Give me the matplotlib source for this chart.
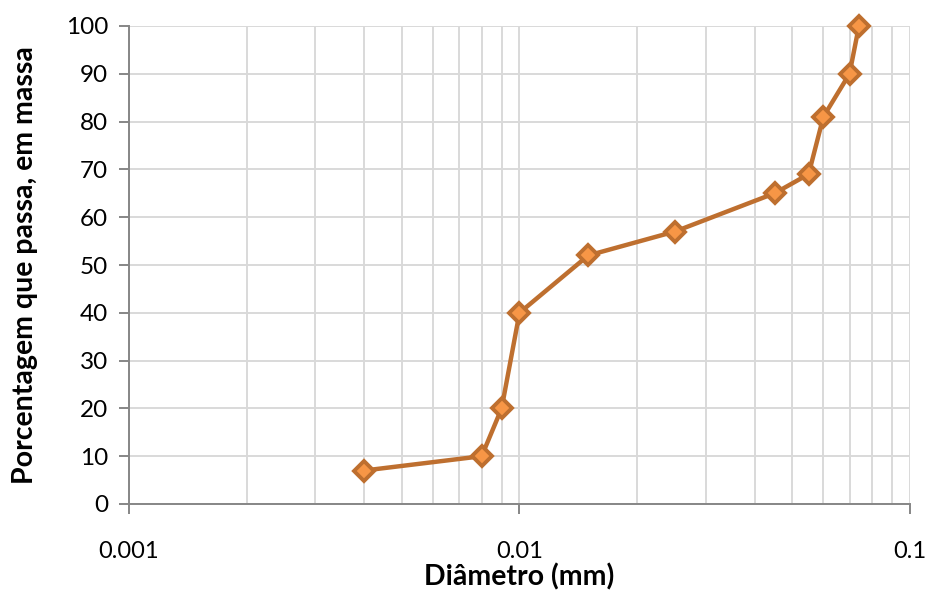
import matplotlib
matplotlib.use("Agg")
import matplotlib.pyplot as plt
from matplotlib.ticker import LogLocator, NullFormatter, FixedLocator

plt.rcParams['font.family'] = ['Lato', 'DejaVu Sans']

# Granulometric curve: particle diameter (mm) vs. percentage passing (by mass)
diametro_mm = [0.004, 0.008, 0.009, 0.010, 0.015, 0.025, 0.045, 0.055, 0.060, 0.070, 0.074]
passante_pct = [7, 10, 20, 40, 52, 57, 65, 69, 81, 90, 100]

x_ticks = [0.001, 0.01, 0.1]
x_tick_labels = ["0.001", "0.01", "0.1"]
y_ticks = list(range(0, 101, 10))

fig = plt.figure(figsize=(9.29, 5.92), dpi=100)
ax = fig.add_axes([129 / 929, 1 - 504 / 592, (910 - 129) / 929, (504 - 26) / 592])

ax.set_xscale("log")
ax.set_xlim(0.001, 0.1)
ax.set_ylim(0, 100)

grid_c = "#d9d9d9"
axis_c = "#868686"

ax.xaxis.set_major_locator(FixedLocator(x_ticks))
ax.set_xticklabels(x_tick_labels)
ax.xaxis.set_minor_locator(LogLocator(base=10, subs=range(2, 10)))
ax.xaxis.set_minor_formatter(NullFormatter())
ax.set_yticks(y_ticks)

ax.grid(True, which="major", color=grid_c, linewidth=1.4)
ax.grid(True, which="minor", axis="x", color=grid_c, linewidth=1.4)
ax.set_axisbelow(True)

for side in ("top", "right"):
    ax.spines[side].set_visible(False)
for side in ("left", "bottom"):
    ax.spines[side].set_color(axis_c)
    ax.spines[side].set_linewidth(1.4)

ax.tick_params(axis="x", which="major", direction="out", length=7, width=1.4,
               color=axis_c, pad=20, labelsize=17)
ax.tick_params(axis="x", which="minor", length=0)
ax.tick_params(axis="y", direction="out", length=7, width=1.4,
               color=axis_c, pad=8, labelsize=17.5)

ax.plot(diametro_mm, passante_pct, color="#BE6F2F", linewidth=3.2,
        marker="D", markersize=10, markerfacecolor="#F79646",
        markeredgecolor="#BE6F2F", markeredgewidth=2.8, zorder=3, clip_on=False)

ax.set_xlabel("Diâmetro (mm)", fontsize=20.5, fontweight="bold", va="center")
ax.xaxis.set_label_coords(0.5, (504 - 577) / 478)
ax.set_ylabel("Porcentagem que passa, em massa", fontsize=20.5, fontweight="bold", va="center")
ax.yaxis.set_label_coords((25 - 129) / 781, 0.5)

fig.savefig("out.png", dpi=100)
